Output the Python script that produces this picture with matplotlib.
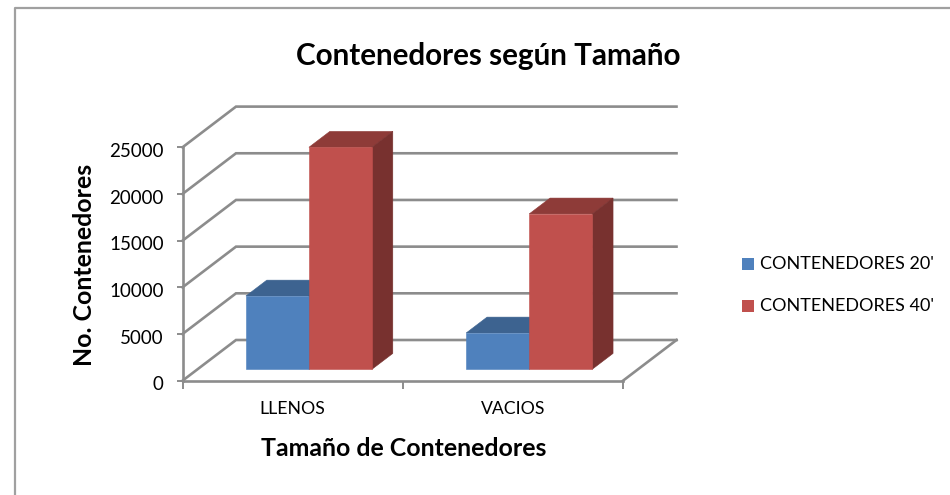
import matplotlib
matplotlib.use("Agg")
import matplotlib.pyplot as plt
from matplotlib.patches import Polygon, Rectangle
from matplotlib.lines import Line2D
from matplotlib.transforms import ScaledTranslation

plt.rcParams['font.family'] = ['Lato', 'DejaVu Sans']

# Data
categories = ["LLENOS", "VACIOS"]
series_names = ["CONTENEDORES 20'", "CONTENEDORES 40'"]
cont_20 = [7850, 3890]
cont_40 = [23780, 16640]
y_ticks = [0, 5000, 10000, 15000, 20000, 25000]

W, H = 950, 495
GRID = "#8c8c8c"
front_col = ["#4f81bd", "#c0504d"]
top_col = ["#3d6390", "#8e3b38"]
side_col = ["#335377", "#78312f"]

fig = plt.figure(figsize=(W / 100, H / 100), dpi=100)

# outer chart frame
fig.add_artist(Line2D([15 / W, 15 / W, 1], [0, 1 - 8 / H, 1 - 8 / H], color="#a0a0a0", lw=1.6))

# front plane of the 3D box
ax = fig.add_axes([182.5 / W, 1 - 380.7 / H, 440.5 / W, 233.4 / H])
ax.set_xlim(0, 2)
ax.set_ylim(0, 25000)
ax.patch.set_alpha(0)

# depth of the box, in data units
DX = 53.5 / 220.25
DY = 40.7 / 233.4 * 25000
BAR_W = 63 / 220.25


def proj(x, y, d):
    return (x + d * DX, y + d * DY)


def poly(pts, color, z):
    ax.add_patch(Polygon(pts, closed=True, facecolor=color, edgecolor=color, lw=0.4, zorder=z, clip_on=False))


# gridlines: side wall and back wall
for t in y_ticks:
    x0, y0 = proj(0, t, 0)
    x1, y1 = proj(0, t, 1)
    x2, y2 = proj(2, t, 1)
    ax.plot([x0, x1, x2], [y0, y1, y2], color=GRID, lw=1.9, zorder=1, clip_on=False, solid_joinstyle="miter")

# floor right edge
x0, y0 = proj(2, 0, 0)
x1, y1 = proj(2, 0, 1)
ax.plot([x0, x1], [y0, y1], color=GRID, lw=1.9, zorder=1, clip_on=False)

# bars, back to front
d0, d1 = 0.28, 0.67
for c in range(len(categories)):
    left = c + 0.5 - BAR_W + 0.006
    for s, vals in enumerate([cont_20, cont_40]):
        xl = left + s * BAR_W
        xr = xl + BAR_W
        v = vals[c]
        z = 3 + s
        poly([proj(xl, v, d0), proj(xr, v, d0), proj(xr, v, d1), proj(xl, v, d1)], top_col[s], z)
        poly([proj(xr, 0, d0), proj(xr, v, d0), proj(xr, v, d1), proj(xr, 0, d1)], side_col[s], z)
        poly([proj(xl, 0, d0), proj(xr, 0, d0), proj(xr, v, d0), proj(xl, v, d0)], front_col[s], z + 0.5)

# axes
for side in ["top", "right"]:
    ax.spines[side].set_visible(False)
for side in ["left", "bottom"]:
    ax.spines[side].set_color(GRID)
    ax.spines[side].set_linewidth(1.9)
    ax.spines[side].set_zorder(6)

ax.set_yticks(y_ticks)
ax.set_yticklabels([str(t) for t in y_ticks], fontsize=13.5, color="black")
ax.set_xticks([0, 1, 2])
ax.set_xticklabels([])
ax.set_xticks([0.5, 1.5], minor=True)
ax.set_xticklabels(categories, minor=True, fontsize=12.7, color="black")
ax.tick_params(axis="x", which="minor", length=0, pad=14.5)
ax.tick_params(axis="x", which="major", length=6, width=1.4, color=GRID)
ax.tick_params(axis="y", length=4.5, width=1.4, color=GRID, pad=9)

# the tick numbers sit a little under their ticks
for lab in ax.get_yticklabels():
    lab.set_transform(lab.get_transform() + ScaledTranslation(0, -2 / 72, fig.dpi_scale_trans))

fig.text(488.5 / W, 1 - 56 / H, "Contenedores según Tamaño", fontsize=21.3, fontweight="bold", ha="center", va="center")
fig.text(404 / W, 1 - 448 / H, "Tamaño de Contenedores", fontsize=17.9, fontweight="bold", ha="center", va="center")
fig.text(85 / W, 1 - 265 / H, "No. Contenedores", fontsize=17.9, fontweight="bold", rotation=90, ha="center", va="center")

# legend
for i, name in enumerate(series_names):
    yc = 264 + i * 42
    fig.add_artist(Rectangle((742 / W, 1 - (yc + 6) / H), 12 / W, 12 / H, facecolor=front_col[i], edgecolor="none", transform=fig.transFigure))
    fig.text(760 / W, 1 - yc / H, name, fontsize=13, ha="left", va="center")

fig.savefig("out.png", dpi=100)
